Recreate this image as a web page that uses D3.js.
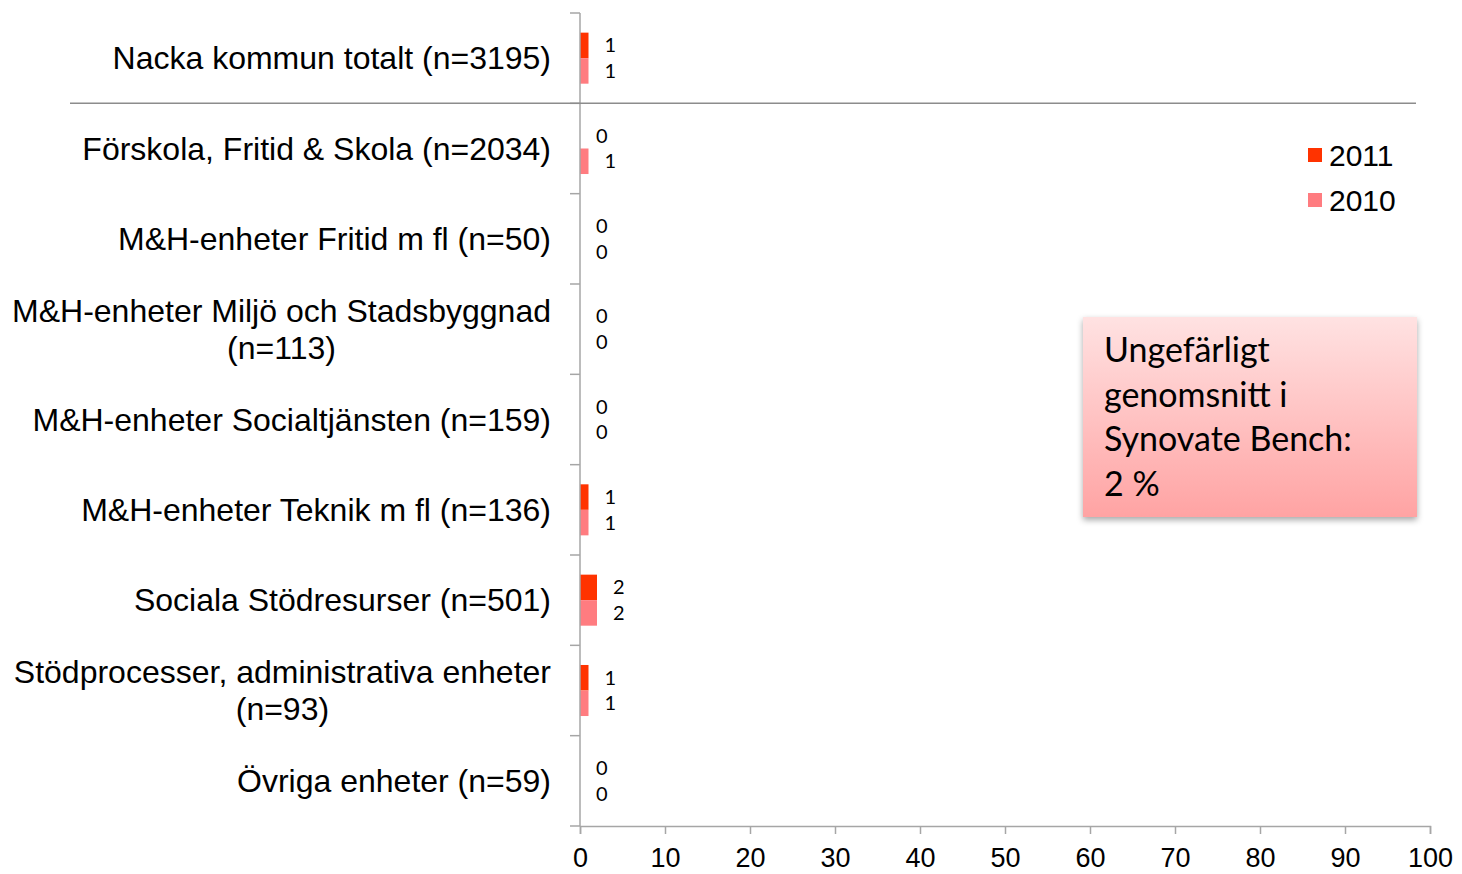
<!DOCTYPE html>
<html>
<head>
<meta charset="utf-8">
<script src="https://cdn.jsdelivr.net/npm/d3@7"></script>
<style>
  html, body { margin: 0; padding: 0; background: #fff; }
  svg { display: block; }
</style>
</head>
<body>
<svg id="chart" width="1462" height="874"></svg>
<script>
// Units, top to bottom; "\n" marks a line break in the label
const categories = [
  "Nacka kommun totalt (n=3195)",
  "Förskola, Fritid & Skola (n=2034)",
  "M&H-enheter Fritid m fl (n=50)",
  "M&H-enheter Miljö och Stadsbyggnad\n(n=113)",
  "M&H-enheter Socialtjänsten (n=159)",
  "M&H-enheter Teknik m fl (n=136)",
  "Sociala Stödresurser (n=501)",
  "Stödprocesser, administrativa enheter\n(n=93)",
  "Övriga enheter (n=59)"
];
const seriesNames = ["2011", "2010"];
const values2011 = [1, 0, 0, 0, 0, 1, 2, 1, 0];
const values2010 = [1, 1, 0, 0, 0, 1, 2, 1, 0];
const xTicks = [0, 10, 20, 30, 40, 50, 60, 70, 80, 90, 100];
const noteLines = ["Ungefärligt", "genomsnitt i", "Synovate Bench:", "2 %"];

const colors = { "2011": "#ff3300", "2010": "#ff7c80" };
const axisColor = "#a6a6a6";

const svg = d3.select("#chart");
const defs = svg.append("defs");

const x = d3.scaleLinear().domain([0, 100]).range([580, 1430]);
const y = d3.scaleBand().domain(categories).range([13, 826]).padding(0);
const ySub = d3.scaleBand().domain(seriesNames).range([0, y.bandwidth()]).paddingOuter(0.77).paddingInner(0);

const rows = categories.map((c, i) => ({
  cat: c,
  vals: [
    { s: "2011", v: values2011[i] },
    { s: "2010", v: values2010[i] }
  ]
}));

// Bars
const g = svg.append("g");
const rowG = g.selectAll("g.row").data(rows).join("g")
  .attr("class", "row")
  .attr("transform", d => `translate(0,${y(d.cat)})`);

rowG.selectAll("rect").data(d => d.vals).join("rect")
  .attr("x", x(0))
  .attr("y", d => ySub(d.s))
  .attr("width", d => x(d.v) - x(0))
  .attr("height", ySub.bandwidth())
  .attr("fill", d => colors[d.s]);

rowG.selectAll("text.val").data(d => d.vals).join("text")
  .attr("class", "val")
  .attr("x", d => x(d.v) + 16)
  .attr("y", d => ySub(d.s) + ySub.bandwidth() / 2)
  .attr("dy", "0.35em")
  .attr("font-family", "Lato, 'Open Sans', sans-serif")
  .attr("font-size", 20)
  .attr("fill", "#000")
  .text(d => d.v);

// X axis
const xAxis = svg.append("g")
  .attr("transform", `translate(0,826)`)
  .call(d3.axisBottom(x).tickValues(xTicks).tickSize(8).tickSizeOuter(8).tickPadding(14));
xAxis.select(".domain").attr("stroke", axisColor).attr("stroke-width", 1.5);
xAxis.selectAll(".tick line").attr("stroke", axisColor).attr("stroke-width", 1.5);
xAxis.selectAll(".tick text")
  .attr("font-family", "'Liberation Sans', Arial, sans-serif")
  .attr("font-size", 27)
  .attr("fill", "#000");

// Y axis line and boundary ticks
const yAxisG = svg.append("g");
yAxisG.append("line")
  .attr("x1", x(0)).attr("x2", x(0))
  .attr("y1", y.range()[0]).attr("y2", y.range()[1])
  .attr("stroke", axisColor).attr("stroke-width", 1.5);
const boundaries = categories.map(c => y(c)).concat([y.range()[1]]);
yAxisG.selectAll("line.bt").data(boundaries).join("line")
  .attr("class", "bt")
  .attr("x1", x(0) - 10).attr("x2", x(0))
  .attr("y1", d => d).attr("y2", d => d)
  .attr("stroke", axisColor).attr("stroke-width", 1.5);

// Category labels (right-aligned block, lines centered within it)
const labelRight = 551;
const lineH = 37;
const catFont = "'Liberation Sans', Arial, sans-serif";
const catSize = 32;
categories.forEach(c => {
  const lines = c.split("\n");
  const cy = y(c) + y.bandwidth() / 2;
  const t = svg.append("text")
    .attr("font-family", catFont)
    .attr("font-size", catSize)
    .attr("fill", "#000");
  if (lines.length === 1) {
    t.attr("x", labelRight).attr("y", cy).attr("dy", "0.35em")
      .attr("text-anchor", "end").text(c);
  } else {
    // measure widest line to center the rest under it
    const tmp = svg.append("text").attr("font-family", catFont).attr("font-size", catSize).text(lines[0]);
    const w = tmp.node().getComputedTextLength();
    tmp.remove();
    const cx = labelRight - w / 2;
    t.attr("text-anchor", "middle");
    lines.forEach((ln, k) => {
      t.append("tspan")
        .attr("x", cx)
        .attr("y", cy + (k - (lines.length - 1) / 2) * lineH)
        .attr("dy", "0.35em")
        .text(ln);
    });
  }
});

// Separator under the total row
svg.append("line")
  .attr("x1", 70).attr("x2", 1416)
  .attr("y1", y(categories[1])).attr("y2", y(categories[1]))
  .attr("stroke", "#8c8c8c").attr("stroke-width", 1.5);

// Legend
const legend = svg.append("g").attr("transform", "translate(1308,155)");
seriesNames.forEach((s, i) => {
  const lg = legend.append("g").attr("transform", `translate(0,${i * 45})`);
  lg.append("rect").attr("x", 0).attr("y", -7).attr("width", 14).attr("height", 14).attr("fill", colors[s]);
  lg.append("text").attr("x", 21).attr("y", 0).attr("dy", "0.35em")
    .attr("font-family", catFont).attr("font-size", 30).attr("fill", "#000").text(s);
});

// Note box
const grad = defs.append("linearGradient").attr("id", "noteGrad")
  .attr("x1", 0).attr("y1", 0).attr("x2", 0).attr("y2", 1);
grad.append("stop").attr("offset", "0%").attr("stop-color", "#ffe2e2");
grad.append("stop").attr("offset", "100%").attr("stop-color", "#ffa3a3");
const shadow = defs.append("filter").attr("id", "noteShadow")
  .attr("x", "-10%").attr("y", "-10%").attr("width", "120%").attr("height", "130%");
shadow.append("feDropShadow").attr("dx", 0).attr("dy", 3).attr("stdDeviation", 3)
  .attr("flood-color", "#000").attr("flood-opacity", 0.35);

const box = svg.append("g").attr("transform", "translate(1083,317)");
box.append("rect").attr("width", 334).attr("height", 200)
  .attr("fill", "url(#noteGrad)").attr("filter", "url(#noteShadow)");
box.selectAll("text").data(noteLines).join("text")
  .attr("x", 21)
  .attr("y", (d, i) => 33 + i * 44.7)
  .attr("dy", "0.35em")
  .attr("font-family", "Lato, 'Open Sans', sans-serif")
  .attr("font-size", 34)
  .attr("fill", "#000")
  .text(d => d);
</script>
</body>
</html>
